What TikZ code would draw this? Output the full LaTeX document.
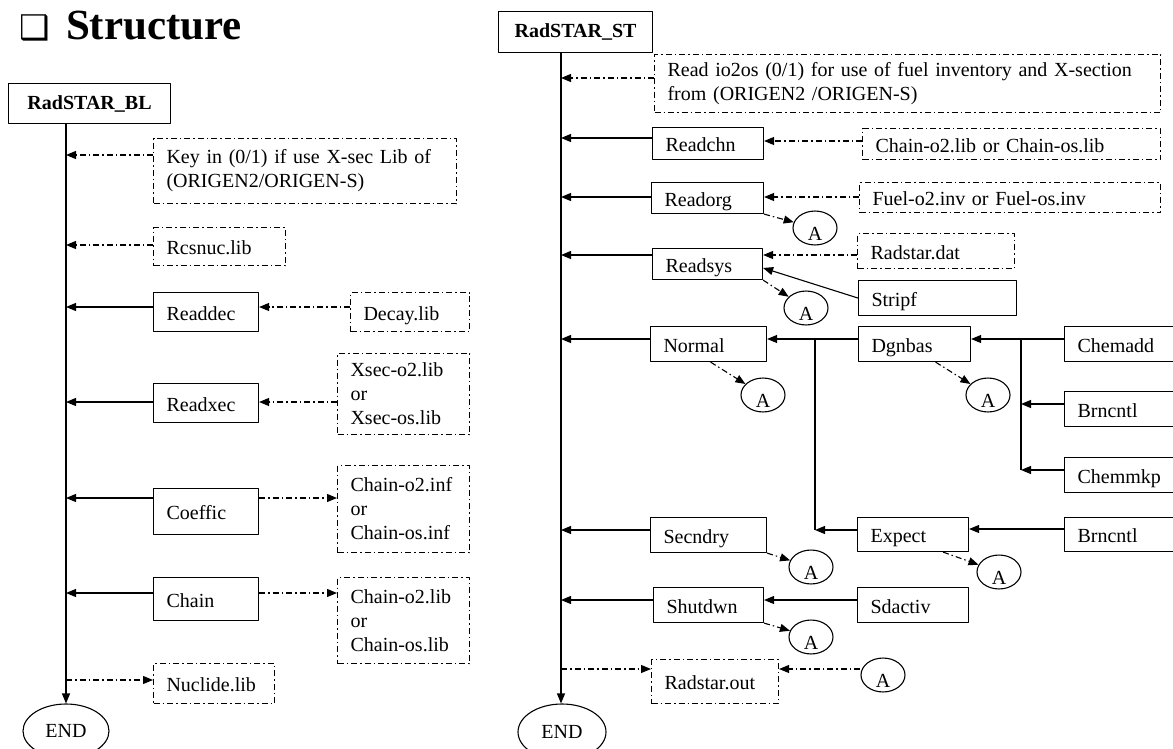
\documentclass[tikz,border=0pt]{standalone}
\usepackage{fontspec}
\setmainfont{Liberation Serif}
\newfontfamily\symfont{DejaVu Sans}
\usetikzlibrary{arrows.meta,shapes.geometric}

\begin{document}
\begin{tikzpicture}[x=1pt, y=-1pt, line join=round,
	every node/.style={font=\fontsize{20}{24}\selectfont},
	pbox/.style={draw, line width=1.1pt, anchor=north west, inner xsep=13pt, inner ysep=0pt, align=left, text height=18pt, text depth=2pt},
	dbox/.style={pbox, dash pattern=on 6pt off 3pt on 1.5pt off 3pt},
	mbox/.style={draw, line width=1.1pt, anchor=north west, inner xsep=13pt, inner ysep=0pt, align=left, dash pattern=on 6pt off 3pt on 1.5pt off 3pt},
	hbox/.style={draw, line width=1.1pt, anchor=north west, inner sep=0pt, font=\fontsize{20}{24}\selectfont\bfseries},
	aref/.style={ellipse, draw, line width=1.1pt, minimum width=44pt, minimum height=29pt, inner sep=0pt, text height=24pt, text depth=0pt},
	endnode/.style={ellipse, draw, line width=1.1pt, minimum width=86pt, minimum height=54pt, inner sep=0pt},
	sarr/.style={line width=1.1pt, -{Triangle[length=10pt,width=8pt]}},
	darr/.style={sarr, dash pattern=on 6pt off 3pt on 1.5pt off 3pt}]
	\useasboundingbox (0,0) rectangle (1173,749);
	
	% title
	\node[anchor=base west, font=\fontsize{43}{50}\selectfont\bfseries] (title) at (16,40)
	{{\symfont\mdseries\fontsize{34}{40}\selectfont ❑}\hspace{16pt}Structure};
	
	% RadSTAR_BL
	\node[hbox, minimum width=162pt, minimum height=40pt] (bl) at (8,83) {RadSTAR\_BL};
	\coordinate (trunkL) at (66,123);
	\node[mbox, text width=277pt, minimum height=65pt] (keyin) at (153,138) {Key in (0/1) if use X-sec Lib of\\(ORIGEN2/ORIGEN-S)};
	\node[dbox, text width=106pt, minimum height=38pt] (rcsnuc) at (153,227) {Rcsnuc.lib};
	\node[pbox, text width=79pt, minimum height=39pt] (readdec) at (153,292) {Readdec};
	\node[dbox, text width=93pt, minimum height=39pt] (decay) at (350,292) {Decay.lib};
	\node[pbox, text width=79pt, minimum height=39pt] (readxec) at (153,383) {Readxec};
	\node[mbox, text width=106pt, minimum height=81pt] (xsec) at (337,353) {Xsec-o2.lib\\or\\Xsec-os.lib};
	\node[pbox, text width=79pt, minimum height=46pt] (coeffic) at (153,488) {Coeffic};
	\node[mbox, text width=106pt, minimum height=87pt] (chinf) at (337,465) {Chain-o2.inf\\or\\Chain-os.inf};
	\node[pbox, text width=79pt, minimum height=43pt] (chain) at (153,577) {Chain};
	\node[mbox, text width=106pt, minimum height=86pt] (chlib) at (337,577) {Chain-o2.lib\\or\\Chain-os.lib};
	\node[dbox, text width=95pt, minimum height=40pt] (nuclide) at (153,663) {Nuclide.lib};
	\node[endnode] (endL) at (66,731) {END};
	
	\draw[sarr] (trunkL) -- (trunkL |- endL.north);
	\draw[darr] ([yshift=-17pt]keyin.north west) -- ([yshift=-17pt]keyin.north west -| trunkL);
	\draw[darr] ([yshift=-18pt]rcsnuc.north west) -- ([yshift=-18pt]rcsnuc.north west -| trunkL);
	\draw[sarr] ([yshift=-15pt]readdec.north west) -- ([yshift=-15pt]readdec.north west -| trunkL);
	\draw[darr] ([yshift=-15pt]decay.north west) -- ([yshift=-15pt]readdec.north east);
	\draw[sarr] ([yshift=-19pt]readxec.north west) -- ([yshift=-19pt]readxec.north west -| trunkL);
	\draw[darr] ([yshift=-19pt]readxec.north east -| xsec.west) -- ([yshift=-19pt]readxec.north east);
	\draw[sarr] ([yshift=-10pt]coeffic.north west) -- ([yshift=-10pt]coeffic.north west -| trunkL);
	\draw[darr] ([yshift=-10pt]coeffic.north east) -- ([yshift=-10pt]coeffic.north east -| chinf.west);
	\draw[sarr] ([yshift=-16pt]chain.north west) -- ([yshift=-16pt]chain.north west -| trunkL);
	\draw[darr] ([yshift=-16pt]chain.north east) -- ([yshift=-16pt]chain.north east -| chlib.west);
	\draw[darr] ([yshift=-17pt]nuclide.north west -| trunkL) -- ([yshift=-17pt]nuclide.north west);
	
	% RadSTAR_ST
	\node[hbox, minimum width=154pt, minimum height=41pt] (st) at (498,11) {RadSTAR\_ST};
	\coordinate (trunkR) at (561,52);
	\node[mbox, text width=480pt, minimum height=58pt] (io2os) at (654,54) {Read io2os (0/1) for use of fuel inventory and X-section\\from (ORIGEN2 /ORIGEN-S)};
	\node[pbox, text width=85pt, minimum height=32pt] (readchn) at (652,127) {Readchn};
	\node[dbox, text width=272pt, minimum height=31pt] (chnlib) at (862,128) {Chain-o2.lib or Chain-os.lib};
	\node[pbox, text width=86pt, minimum height=31pt] (readorg) at (651,182) {Readorg};
	\node[dbox, text width=275pt, minimum height=30pt] (fuel) at (859,182) {Fuel-o2.inv or Fuel-os.inv};
	\node[aref] (aorg) at (815,228) {A};
	\node[dbox, text width=131pt, minimum height=35pt] (radsdat) at (857,233) {Radstar.dat};
	\node[pbox, text width=84pt, minimum height=31pt] (readsys) at (652,248) {Readsys};
	\node[pbox, text width=132pt, minimum height=35pt] (stripf) at (858,280) {Stripf};
	\node[aref] (asys) at (806,308) {A};
	\node[pbox, text width=90pt, minimum height=35pt] (normal) at (650,326) {Normal};
	\node[pbox, text width=86pt, minimum height=35pt] (dgnbas) at (858,326) {Dgnbas};
	\node[aref] (anorm) at (763,395) {A};
	\node[pbox, text width=89pt, minimum height=35pt] (chemadd) at (1064,326) {Chemadd};
	\node[pbox, text width=89pt, minimum height=35pt] (brnA) at (1064,391) {Brncntl};
	\node[pbox, text width=89pt, minimum height=35pt] (chemmkp) at (1064,457) {Chemmkp};
	\node[aref] (adgn) at (988,395) {A};
	\node[pbox, text width=85pt, minimum height=34pt] (expect) at (857,517) {Expect};
	\node[pbox, text width=89pt, minimum height=34pt] (brnB) at (1064,517) {Brncntl};
	\node[aref] (aexp) at (999,572) {A};
	\node[pbox, text width=90pt, minimum height=35pt] (secndry) at (650,517) {Secndry};
	\node[aref] (asec) at (811,567) {A};
	\node[pbox, text width=84pt, minimum height=35pt] (shutdwn) at (653,587) {Shutdwn};
	\node[pbox, text width=85pt, minimum height=35pt] (sdactiv) at (857,587) {Sdactiv};
	\node[aref] (ashut) at (811,637) {A};
	\node[dbox, text width=101pt, minimum height=44pt] (radsout) at (651,659) {Radstar.out};
	\node[aref] (aout) at (883,675) {A};
	\node[endnode, minimum width=88pt, minimum height=56pt] (endR) at (562,732) {END};
	
	\draw[sarr] (trunkR) -- (trunkR |- endR.north);
	\draw[darr] ([yshift=-24pt]io2os.north west) -- ([yshift=-24pt]io2os.north west -| trunkR);
	\draw[sarr] ([yshift=-11pt]readchn.north west) -- ([yshift=-11pt]readchn.north west -| trunkR);
	\draw[darr] ([yshift=-13pt]chnlib.north west) -- ([yshift=-13pt]chnlib.north west -| readchn.east);
	\draw[sarr] ([yshift=-15pt]readorg.north west) -- ([yshift=-15pt]readorg.north west -| trunkR);
	\draw[darr] ([yshift=-15pt]fuel.north west) -- ([yshift=-15pt]fuel.north west -| readorg.east);
	\draw[darr] (readorg.south east) -- (aorg);
	\draw[sarr] ([yshift=-7pt]readsys.north west) -- ([yshift=-7pt]readsys.north west -| trunkR);
	\draw[darr] ([yshift=-22pt]radsdat.north west) -- ([yshift=-22pt]radsdat.north west -| readsys.east);
	\draw[sarr] (stripf.west) -- ([yshift=-20pt]readsys.north east);
	\draw[darr] (readsys.south east) -- (asys);
	\draw[sarr] ([yshift=-13pt]normal.north west) -- ([yshift=-13pt]normal.north west -| trunkR);
	\draw[sarr] ([yshift=-13pt]dgnbas.north west) -- ([yshift=-13pt]dgnbas.north west -| normal.east);
	\coordinate (jn) at (815,339);
	\draw[line width=2pt] (jn) -- ([yshift=-13pt]expect.north west -| jn);
	\draw[sarr] ([yshift=-13pt]expect.north west) -- ([yshift=-13pt]expect.north west -| jn);
	\draw[darr] ([xshift=2pt]normal.south) -- (anorm);
	\draw[sarr] ([yshift=-13pt]chemadd.north west) -- ([yshift=-13pt]chemadd.north west -| dgnbas.east);
	\coordinate (jc) at (1021,339);
	\draw[line width=2pt] (jc) -- ([yshift=-13pt]chemmkp.north west -| jc);
	\draw[sarr] ([yshift=-13pt]brnA.north west) -- ([yshift=-13pt]brnA.north west -| jc);
	\draw[sarr] ([yshift=-13pt]chemmkp.north west) -- ([yshift=-13pt]chemmkp.north west -| jc);
	\draw[darr] ([xshift=21pt]dgnbas.south) -- (adgn);
	\draw[sarr] ([yshift=-12pt]brnB.north west) -- ([yshift=-12pt]brnB.north west -| expect.east);
	\draw[darr] ([xshift=30pt]expect.south) -- (aexp);
	\draw[sarr] ([yshift=-13pt]secndry.north west) -- ([yshift=-13pt]secndry.north west -| trunkR);
	\draw[darr] (secndry.south east) -- (asec);
	\draw[sarr] ([yshift=-13pt]shutdwn.north west) -- ([yshift=-13pt]shutdwn.north west -| trunkR);
	\draw[sarr] ([yshift=-13pt]sdactiv.north west) -- ([yshift=-13pt]sdactiv.north west -| shutdwn.east);
	\draw[darr] (shutdwn.south east) -- (ashut);
	\draw[darr] ([yshift=-10pt]radsout.north west -| trunkR) -- ([yshift=-10pt]radsout.north west);
	\draw[darr] ([yshift=-10pt]radsout.north east -| aout.west) -- ([yshift=-10pt]radsout.north east);
\end{tikzpicture}
\end{document}
